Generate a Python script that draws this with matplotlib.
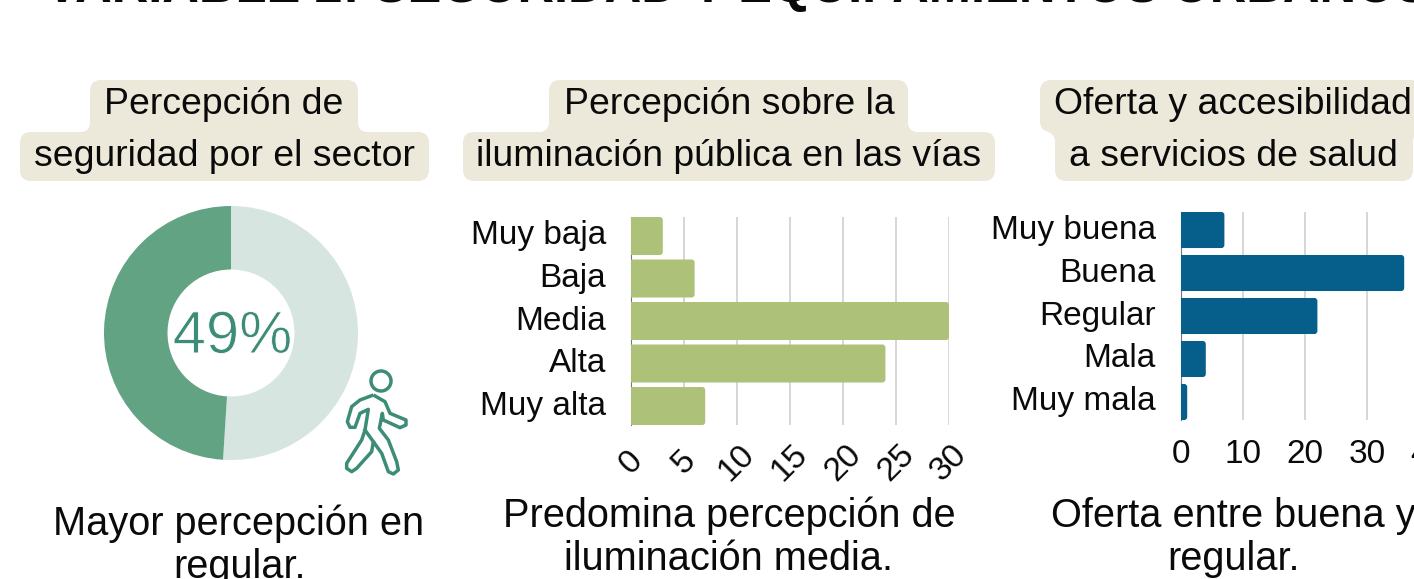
import matplotlib
matplotlib.use('Agg')
import matplotlib.pyplot as plt
import matplotlib.patheffects as pe
from matplotlib.patches import FancyBboxPatch, Circle, PathPatch, Rectangle
from matplotlib.path import Path
from matplotlib.transforms import ScaledTranslation

plt.rcParams['font.family'] = ['Liberation Sans', 'DejaVu Sans']

W, H = 1414, 579

# data
donut_values = [51, 49]
donut_label = '49%'
light_labels = ['Muy baja', 'Baja', 'Media', 'Alta', 'Muy alta']
light_values = [3, 6, 30, 24, 7]
light_ticks = [0, 5, 10, 15, 20, 25, 30]
health_labels = ['Muy buena', 'Buena', 'Regular', 'Mala', 'Muy mala']
health_values = [7, 36, 22, 4, 1]
health_ticks = [0, 10, 20, 30, 40]

TITLE = 'VARIABLE 2: SEGURIDAD Y EQUIPAMIENTOS URBANOS'
BEIGE = '#ECE9DB'
GREEN = '#3D8C78'
INK = '#0A0A0A'


def px_axes(fig, left, top, right, bottom):
    return fig.add_axes([left / W, 1 - bottom / H, (right - left) / W, (bottom - top) / H])


def pill(bg, x0, y0, x1, y1, r=11):
    bg.add_patch(FancyBboxPatch((x0 + r, y0 + r), x1 - x0 - 2 * r, y1 - y0 - 2 * r,
                                boxstyle='round,pad=%d,rounding_size=%d' % (r, r),
                                fc=BEIGE, ec='none'))


def fillet(bg, x, joint, xdir, ydir, r=9):
    # concave corner where the narrower line meets the wider one
    rx = x if xdir > 0 else x - r
    ry = joint if ydir > 0 else joint - r
    bg.add_patch(Rectangle((rx, ry), r, r, fc=BEIGE, ec='none'))
    bg.add_patch(Circle((x + xdir * r, joint + ydir * r), r, fc='white', ec='none'))


def heading(bg, lines, boxes, centers, size=26.9):
    a, b = boxes
    joint = a[3]
    left = max(a[0], b[0])
    right = min(a[2], b[2])
    fillet(bg, left, joint, -1, -1 if a[0] > b[0] else 1)
    fillet(bg, right, joint, 1, -1 if a[2] < b[2] else 1)
    pill(bg, *a)
    pill(bg, *b)
    # the narrower line keeps square corners at the joint
    bg.add_patch(Rectangle((left, joint - 12), 14, 24, fc=BEIGE, ec='none'))
    bg.add_patch(Rectangle((right - 14, joint - 12), 14, 24, fc=BEIGE, ec='none'))
    for text, (cx, cy) in zip(lines, centers):
        bg.text(cx, cy, text, fontsize=size, ha='center', va='center', color=INK)


def hbar(fig, box, labels, values, ticks, xmax, color, half_bar, rotate=False):
    ax = px_axes(fig, *box)
    ax.patch.set_alpha(0)
    bars = ax.barh(labels, values, height=2 * half_bar, color=color, zorder=3)
    ax.set_xlim(0, xmax)
    ax.set_ylim(len(labels) - 1 + half_bar, -half_bar)
    ax.set_xticks(ticks)
    ax.grid(axis='x', color='#CCCCCC', lw=1.1, zorder=0)
    for name, s in ax.spines.items():
        s.set_visible(name == 'left')
    ax.spines['left'].set_color('#777777')
    ax.tick_params(axis='both', length=0, labelsize=24, colors=INK)
    ax.tick_params(axis='y', pad=18)

    # swap the square ends for slightly rounded ones, left edge stays square
    sx = (box[2] - box[0]) / xmax
    sy = (box[3] - box[1]) / (len(labels) - 1 + 2 * half_bar)
    r = 3.0 / sx
    for bar in bars:
        bar.set_visible(False)
        ax.add_patch(FancyBboxPatch((-2 * r, bar.get_y()), bar.get_width() + 2 * r, bar.get_height(),
                                    boxstyle='round,pad=0,rounding_size=%f' % r,
                                    mutation_aspect=sx / sy, fc=color, ec='none', zorder=3))

    for t in ax.get_yticklabels():
        t.set_transform(t.get_transform() + ScaledTranslation(0, 3.5 / fig.dpi, fig.dpi_scale_trans))
    if rotate:
        ax.tick_params(axis='x', pad=27)
        for t in ax.get_xticklabels():
            t.set_rotation(45)
            t.set_ha('center')
            t.set_va('center')
    else:
        ax.tick_params(axis='x', pad=14)
    return ax


fig = plt.figure(figsize=(W / 100, H / 100), dpi=100)

# page level layer, in pixels
bg = fig.add_axes([0, 0, 1, 1])
bg.set_xlim(0, W)
bg.set_ylim(H, 0)
bg.axis('off')

bg.text(45, 2, TITLE, fontsize=36.5, fontweight='bold', ha='left', va='baseline',
        color=INK, clip_on=False)

heading(bg, ['Percepción de', 'seguridad por el sector'],
        [(90, 80, 358, 132), (20, 132, 429, 181)], [(224, 105), (224, 157)])
heading(bg, ['Percepción sobre la', 'iluminación pública en las vías'],
        [(549, 80, 908, 132), (463, 132, 995, 181)], [(729, 105), (729, 157)])
heading(bg, ['Oferta y accesibilidad', 'a servicios de salud'],
        [(1040, 80, 1424, 132), (1055, 132, 1413, 181)], [(1233, 105), (1233, 157)])

for text, cx, cy in [('Mayor percepción en', 239, 524), ('regular.', 239, 567),
                     ('Predomina percepción de', 729, 516), ('iluminación media.', 729, 559),
                     ('Oferta entre buena y', 1233, 516), ('regular.', 1233, 559)]:
    bg.text(cx, cy, text, fontsize=28.6, ha='center', va='center', color=INK)

# donut
ax_d = px_axes(fig, 104, 206, 358, 460)
ax_d.pie(donut_values, colors=['#D7E5E0', '#62A384'], startangle=90, counterclock=False,
         radius=1, wedgeprops=dict(width=0.5), frame=False)
ax_d.set_xlim(-1, 1)
ax_d.set_ylim(-1, 1)
ax_d.text(0.012, -0.035, donut_label, fontsize=43, color=GREEN, ha='center', va='center',
          path_effects=[pe.Stroke(linewidth=0.6, foreground='white')])

# walking person, traced from the icon (zoomed crop coords)
body = [(160, 135), (120, 150), (95, 170), (82, 215), (90, 232), (105, 232), (120, 190), (145, 178),
        (135, 240), (125, 270), (80, 340), (80, 355), (95, 365), (110, 355), (155, 305), (160, 275),
        (185, 310), (205, 365), (220, 372), (235, 360), (230, 335), (205, 270), (178, 235), (187, 190),
        (190, 210), (240, 233), (258, 225), (258, 210), (210, 190), (195, 155), (160, 135)]
body_px = [(320 + x / 3, 350 + y / 3) for x, y in body]
bg.add_patch(PathPatch(Path(body_px), fc='none', ec=GREEN, lw=2.5, joinstyle='round'))
bg.plot([320 + 135 / 3, 320 + 160 / 3], [350 + 240 / 3, 350 + 275 / 3], color=GREEN, lw=2.5)
bg.add_patch(Circle((381, 381), 10, fc='none', ec=GREEN, lw=2.5))

hbar(fig, (631, 217, 949, 425), light_labels, light_values, light_ticks, 30, '#ADC178', 0.447, rotate=True)
hbar(fig, (1181, 212, 1429, 420), health_labels, health_values, health_ticks, 40, '#065E8A', 0.419)

fig.savefig('out.png', dpi=100)
